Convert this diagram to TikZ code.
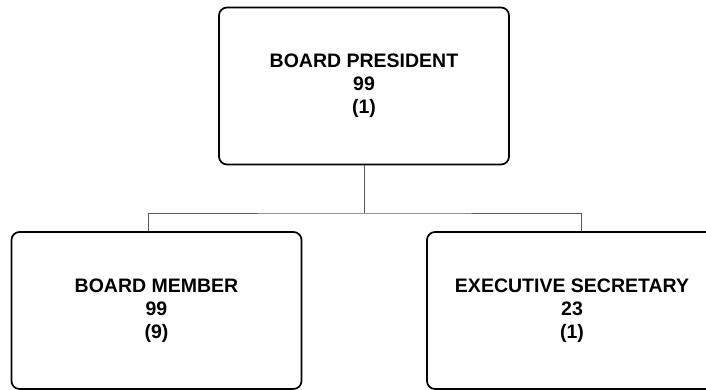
\documentclass[tikz,border=0pt]{standalone}
\usepackage{fontspec}
\setmainfont{Liberation Sans}
\usepackage{tikz}

\begin{document}
\begin{tikzpicture}[x=1pt, y=-1pt,
    post/.style={draw=black, line width=1.7pt, rounded corners=8pt,
        minimum width=290pt, minimum height=157pt, inner sep=0pt,
        align=center, font=\fontsize{19.5}{23}\selectfont\bfseries},
    link/.style={draw=black!65, line width=0.9pt}]
                \useasboundingbox (0,0) rectangle (706,390);
                \clip (0,0) rectangle (706,390);

                \node[post] (president) at (364,86) {BOARD PRESIDENT\\99\\(1)};
                \node[post] (member) at (156.5,310.5) {BOARD MEMBER\\99\\(9)};
                \node[post] (secretary) at (572,310.5) {EXECUTIVE SECRETARY\\23\\(1)};

                \coordinate (bus) at (364,213);
                \draw[link] (president.south) -- (bus);
                \draw[link] ([xshift=-8.5pt]member.north) |- (bus) -| ([xshift=9pt]secretary.north);
            \end{tikzpicture}
\end{document}
